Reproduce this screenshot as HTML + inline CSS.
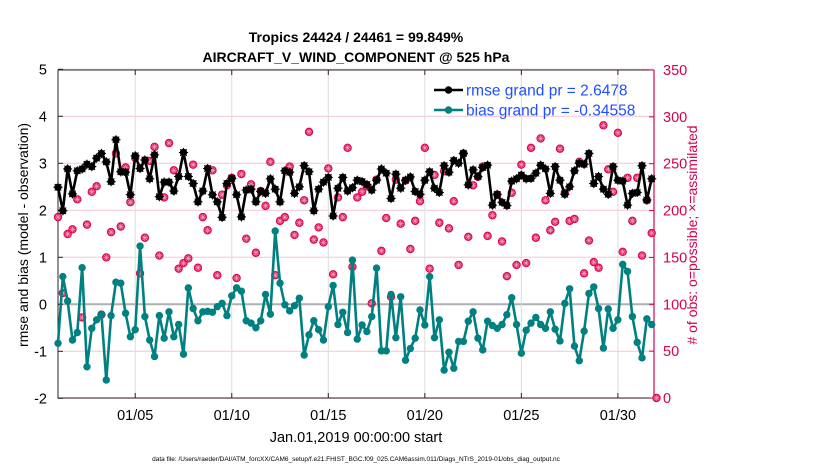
<!DOCTYPE html>
<html><head><meta charset="utf-8">
<style>
html,body{margin:0;padding:0;background:#fff;}
svg{display:block;font-family:"Liberation Sans",Arial,sans-serif;}
</style></head>
<body>
<svg id="chart" width="830" height="470" viewBox="0 0 830 470">
  <text x="356" y="42" text-anchor="middle" font-size="14" font-weight="bold">Tropics 24424 / 24461 = 99.849%</text>
  <text x="356" y="62" text-anchor="middle" font-size="14" font-weight="bold">AIRCRAFT_V_WIND_COMPONENT @ 525 hPa</text>
  <text transform="translate(28,235) rotate(-90)" text-anchor="middle" font-size="14">rmse and bias (model - observation)</text>
  <text transform="translate(697,235) rotate(-90)" text-anchor="middle" font-size="14" fill="#d6004f"># of obs: o=possible; ×=assimilated</text>
  <text x="356" y="442" text-anchor="middle" font-size="14.5">Jan.01,2019 00:00:00 start</text>
  <text x="356" y="461" text-anchor="middle" font-size="6.5">data file: /Users/raeder/DAI/ATM_forcXX/CAM6_setup/f.e21.FHIST_BGC.f09_025.CAM6assim.011/Diags_NTrS_2019-01/obs_diag_output.nc</text>
  <g id="plot"></g>
</svg>
<script>
const leftTicks = [5,4,3,2,1,0,-1,-2];
const rightTicks = [0,50,100,150,200,250,300,350];
const dateTicks = ["01/05","01/10","01/15","01/20","01/25","01/30"];
const dateTickDays = [4,9,14,19,24,29];
const rmse = [2.49,1.99,2.88,2.35,2.84,2.88,2.98,2.93,3.11,3.21,3.03,2.61,3.50,2.82,2.81,2.33,3.16,2.89,3.07,2.67,3.18,2.29,2.60,2.60,2.41,2.72,3.23,2.72,2.57,2.18,2.41,2.89,2.33,2.18,1.85,2.57,2.68,2.33,1.86,2.43,2.45,2.18,2.40,2.36,2.67,2.45,2.18,2.84,2.81,2.36,2.50,2.95,2.82,1.99,2.45,2.60,2.70,1.88,2.47,2.70,2.41,2.48,2.64,2.61,2.55,2.43,2.64,2.88,2.79,2.25,2.77,2.47,2.64,2.71,2.40,2.34,2.64,2.82,2.47,2.38,2.95,2.81,3.06,3.00,3.21,2.54,2.86,2.72,2.91,2.96,2.11,2.34,2.17,2.10,2.62,2.67,2.75,2.67,2.68,2.79,2.96,2.88,2.36,2.93,2.64,2.34,2.50,2.84,3.00,2.98,3.21,2.57,2.72,2.45,2.34,2.93,2.64,2.62,2.11,2.36,2.38,2.95,2.22,2.67];
const bias = [-0.83,0.59,0.07,-0.76,-0.60,0.78,-1.33,-0.51,-0.33,-0.21,-1.61,-0.24,0.47,0.45,-0.19,-0.69,-0.54,1.24,-0.26,-0.76,-1.11,-0.24,-0.72,-0.16,-0.69,-0.43,-1.06,0.35,-0.09,-0.35,-0.16,-0.15,-0.17,-0.05,0.02,-0.24,0.18,0.35,0.28,-0.35,-0.40,-0.50,-0.35,0.21,-0.21,1.56,0.45,-0.01,-0.14,-0.03,0.13,-1.08,-0.65,-0.35,-0.54,-0.76,-0.05,0.40,-0.43,-0.17,-0.60,0.94,-0.74,-0.44,-0.58,-0.26,0.77,-0.99,-0.99,0.21,-0.71,0.16,-1.19,-0.94,-0.72,-0.12,-0.44,0.59,-0.71,-0.33,-1.40,-1.02,-1.36,-0.79,-0.79,-0.36,-0.16,-0.72,-0.97,-0.36,-0.45,-0.51,-0.43,-0.22,0.14,-0.43,-1.04,-0.55,-0.40,-0.28,-0.43,-0.51,-0.16,-0.53,-0.78,0.02,0.33,-0.89,-1.20,-0.57,0.23,0.37,-0.09,-0.93,-0.10,-0.51,-0.33,0.85,0.70,-0.26,-0.81,-1.14,-0.31,-0.43];
const obsCount = [193,112,175,180,212,86,185,220,226,89,150,177,261,183,246,209,256,133,171,253,268,152,214,272,243,138,144,149,249,139,193,179,243,131,217,227,235,128,239,170,228,155,221,205,252,131,189,193,247,174,187,211,284,169,182,166,245,132,214,193,267,140,214,220,226,101,233,157,192,108,233,186,232,159,189,210,267,138,238,187,242,181,210,142,261,172,227,236,247,173,195,217,167,130,219,142,249,144,267,171,277,211,179,188,266,219,189,191,252,133,168,145,139,291,244,220,283,156,235,189,235,152,211,176,0];
const legendLabels = ["rmse grand pr = 2.6478","bias grand pr = -0.34558"];

const NS="http://www.w3.org/2000/svg";
const L=58,R=654,T=70,B=398;
const xmin=0,xmax=30.87;
function xs(d){return L+(d-xmin)/(xmax-xmin)*(R-L);}
function yl(v){return 304.3-47*v;}
function yr(c){return B-(c/350)*(B-T);}
const plot=document.getElementById('plot');
function mk(tag,attrs,parent){const e=document.createElementNS(NS,tag);for(const k in attrs)e.setAttribute(k,attrs[k]);(parent||plot).appendChild(e);return e;}

leftTicks.forEach(v=>{
  const g=mk('line',{x1:L,x2:R,y1:yl(v),y2:yl(v),stroke:v===0?'#b0b0b0':'#f3c6d8','stroke-width':v===0?2:1});
  
  
});
dateTickDays.forEach(d=>{
  const g=mk('line',{x1:xs(d),x2:xs(d),y1:T,y2:B,stroke:'#dcdcdc','stroke-width':1});
  
  
});
const fr=mk('path',{d:`M${R},${T} L${L},${T} L${L},${B} L${R},${B}`,fill:'none',stroke:'#262626','stroke-width':1});


const ra=mk('line',{x1:R,x2:R,y1:T,y2:B,stroke:'#d6004f','stroke-width':1.2});


leftTicks.forEach(v=>{
  mk('line',{x1:L,x2:L+5,y1:yl(v),y2:yl(v),stroke:'#262626'});
  const t=mk('text',{x:L-11,y:yl(v)+5,'text-anchor':'end','font-size':14.5});
  t.textContent=v;
  
  
});
rightTicks.forEach(c=>{
  mk('line',{x1:R-5,x2:R,y1:yr(c),y2:yr(c),stroke:'#d6004f'});
  const t=mk('text',{x:R+9,y:yr(c)+5,'font-size':14.5,fill:'#d6004f'});
  t.textContent=c;
  
  
});
dateTickDays.forEach((d,i)=>{
  mk('line',{x1:xs(d),x2:xs(d),y1:B-5,y2:B,stroke:'#262626'});
  mk('line',{x1:xs(d),x2:xs(d),y1:T,y2:T+5,stroke:'#262626'});
  const t=mk('text',{x:xs(d),y:B+22,'text-anchor':'middle','font-size':14.5});
  t.textContent=dateTicks[i];
  
  
});
function star(cx,cy,r,col,w,parent){
  for(let k=0;k<4;k++){const a=k*Math.PI/4;mk('line',{x1:cx-r*Math.cos(a),y1:cy-r*Math.sin(a),x2:cx+r*Math.cos(a),y2:cy+r*Math.sin(a),stroke:col,'stroke-width':w},parent);}
}
obsCount.forEach((c,i)=>{
  const g=mk('g',{});
  
  
  const cx=xs(i*0.25),cy=yr(c);
  mk('circle',{cx:cx,cy:cy,r:3.8,fill:'#e0245e',stroke:'#d6004f','stroke-width':0.8},g);
  star(cx,cy,3.0,'#f6a8c4',0.6,g);
});
function series(vals,col,name,starred){
  const pts=vals.map((v,i)=>`${xs(i*0.25).toFixed(2)},${yl(v).toFixed(2)}`).join(' ');
  const pl=mk('polyline',{points:pts,fill:'none',stroke:col,'stroke-width':2.6,'stroke-linejoin':'round'});
  
  
  vals.forEach((v,i)=>{
    const c=mk('circle',{cx:xs(i*0.25),cy:yl(v),r:3.7,fill:col});
    
    
    if(starred) star(xs(i*0.25),yl(v),4.6,col,1);
  });
}
series(bias,'#008080','bias',false);
series(rmse,'#000000','rmse',true);
const lg=mk('g',{});


const lcols=['#000000','#008080'];
legendLabels.forEach((s,i)=>{
  const y=90+i*20;
  const e=mk('g',{},lg);
  
  
  mk('line',{x1:434,x2:463,y1:y,y2:y,stroke:lcols[i],'stroke-width':2.6},e);
  mk('circle',{cx:448.5,cy:y,r:3.7,fill:lcols[i]},e);
  const t=mk('text',{x:466,y:y+5.5,'font-size':15.5,fill:'#1f4fff'},e);
  t.textContent=s;
});
</script>
</body></html>
